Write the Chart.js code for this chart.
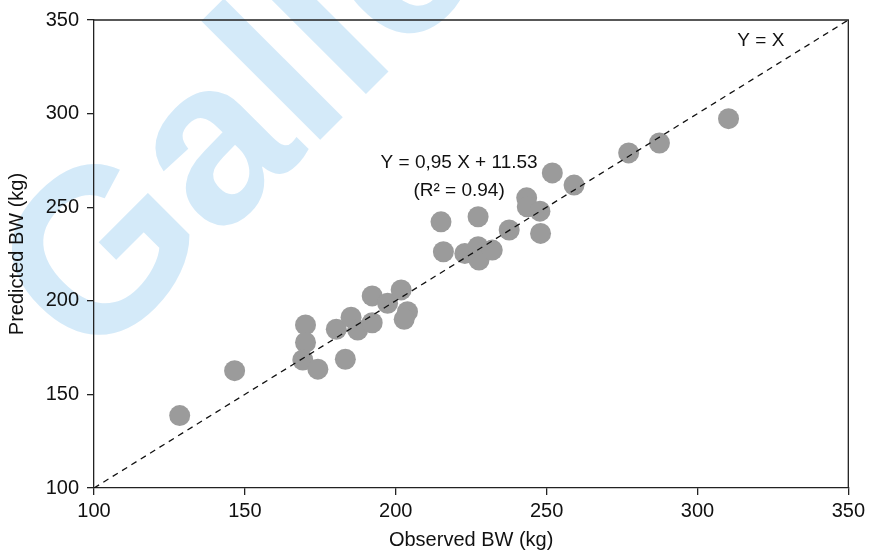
<!DOCTYPE html>
<html><head><meta charset="utf-8">
<script src="https://cdn.jsdelivr.net/npm/chart.js@4.4.1/dist/chart.umd.min.js"></script>
<style>html,body{margin:0;padding:0;background:#fff}canvas{display:block}</style>
</head><body>
<canvas id="c" width="869" height="556"></canvas>
<script>
// ---- data ----
const observedBW  = [128.4,146.6,170.1,170.1,169.2,174.2,180.3,185.2,187.4,192.2,183.3,192.2,197.3,201.8,203.9,202.8,
                     215.0,227.3,215.8,222.9,227.3,227.6,232.0,237.6,243.4,243.6,247.8,248.0,251.9,259.1,277.2,287.4,310.3];
const predictedBW = [138.7,162.7,187.1,177.7,168.4,163.5,184.8,191.2,184.4,188.3,168.8,202.6,198.7,205.8,194.2,190.1,
                     242.2,244.9,226.2,225.3,228.9,221.8,227.1,237.8,255.0,250.2,247.9,236.0,268.3,261.8,279.0,284.3,297.3];
const xTicks = [100,150,200,250,300,350];
const yTicks = [100,150,200,250,300,350];
const identityLine = [100,350];
const eqLabel = ["Y = 0,95 X + 11.53", "(R\u00B2 = 0.94)"];
const identityLabel = "Y = X";
const xTitle = "Observed BW (kg)";
const yTitle = "Predicted BW (kg)";
const watermark = "Gallery";

const FONT = "'Liberation Sans',Arial,sans-serif";

const annotations = {
  id: 'annotations',
  beforeDraw(chart) {
    const ctx = chart.ctx;
    ctx.save();
    ctx.fillStyle = '#ffffff';
    ctx.fillRect(0,0,chart.width,chart.height);
    ctx.fillStyle = '#d4eaf9';
    ctx.font = "bold 232px 'Liberation Sans',Arial,sans-serif";
    ctx.translate(90, 370);
    ctx.rotate(-Math.PI/4);
    ctx.textBaseline = 'alphabetic';
    ctx.fillText(watermark, 0, 0);
    ctx.restore();
  },
  afterDraw(chart) {
    const ctx = chart.ctx, a = chart.chartArea;
    const xs = chart.scales.x, ys = chart.scales.y;
    ctx.save();
    ctx.strokeStyle = '#222';
    ctx.lineWidth = 1.3;
    ctx.beginPath();
    ctx.moveTo(a.left, a.top); ctx.lineTo(a.right, a.top); ctx.lineTo(a.right, a.bottom);
    ctx.stroke();
    ctx.fillStyle = '#111';
    ctx.font = "19px " + FONT;
    ctx.textAlign = 'center';
    ctx.textBaseline = 'middle';
    ctx.fillText(eqLabel[0], xs.getPixelForValue(221), ys.getPixelForValue(274));
    ctx.fillText(eqLabel[1], xs.getPixelForValue(221), ys.getPixelForValue(259));
    ctx.fillText(identityLabel, xs.getPixelForValue(321), ys.getPixelForValue(339));
    ctx.restore();
  }
};

new Chart(document.getElementById('c'), {
  type: 'scatter',
  data: {
    datasets: [
      {
        type: 'line',
        data: identityLine.map(v => ({x: v, y: v})),
        borderColor: '#111',
        borderWidth: 1.3,
        borderDash: [6, 5],
        pointRadius: 0,
        fill: false,
        order: 0
      },
      {
        data: observedBW.map((x, i) => ({x, y: predictedBW[i]})),
        backgroundColor: '#9b9b9b',
        borderWidth: 0,
        pointRadius: 10.5,
        order: 1
      }
    ]
  },
  options: {
    responsive: false,
    devicePixelRatio: 1,
    animation: false,
    layout: {padding: {left: 0, top: 19, right: 19, bottom: 0}},
    plugins: {legend: {display: false}, tooltip: {enabled: false}},
    scales: {
      x: {
        type: 'linear', min: 100, max: 350,
        afterBuildTicks: s => { s.ticks = xTicks.map(v => ({value: v})); },
        afterFit: s => { s.height = 68; },
        grid: {drawOnChartArea: false, drawTicks: true, tickLength: 7, color: '#222', lineWidth: 1.3},
        border: {display: true, color: '#222', width: 1.3},
        ticks: {color: '#111', font: {family: FONT, size: 20}, padding: 4, maxRotation: 0},
        title: {display: true, text: xTitle, color: '#111', font: {family: FONT, size: 20, lineHeight: 1.2}, padding: {top: 0, bottom: 4}}
      },
      y: {
        type: 'linear', min: 100, max: 350,
        afterBuildTicks: s => { s.ticks = yTicks.map(v => ({value: v})); },
        afterFit: s => { s.width = 94; },
        grid: {drawOnChartArea: false, drawTicks: true, tickLength: 7, color: '#222', lineWidth: 1.3},
        border: {display: true, color: '#222', width: 1.3},
        ticks: {color: '#111', font: {family: FONT, size: 20}, padding: 8},
        title: {display: true, text: yTitle, color: '#111', font: {family: FONT, size: 20, lineHeight: 1.2}, padding: {top: 5, bottom: 0}}
      }
    }
  },
  plugins: [annotations]
});
</script>
</body></html>
